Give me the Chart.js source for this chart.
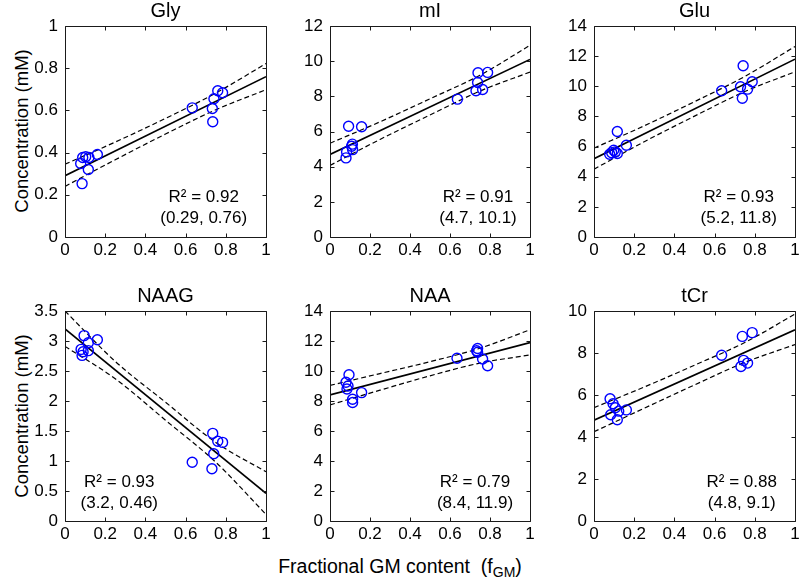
<!DOCTYPE html>
<html>
<head>
<meta charset="utf-8">
<script src="https://cdn.jsdelivr.net/npm/chart.js@4/dist/chart.umd.min.js"></script>
<style>
html,body{margin:0;padding:0;background:#fff;}
body{width:800px;height:583px;overflow:hidden;position:relative;font-family:"Liberation Sans",Arial,sans-serif;color:#000;}
canvas{position:absolute;}
.ylab{position:absolute;transform:translate(-50%,-50%) rotate(-90deg);white-space:nowrap;font-size:18.5px;}
.xlab{position:absolute;transform:translate(-50%,-50%);white-space:nowrap;font-size:19.5px;}
.xlab sub{font-size:14px;vertical-align:-4px;}
</style>
</head>
<body>
<div class="ylab" style="left:22px;top:131px;">Concentration (mM)</div>
<div class="ylab" style="left:22px;top:416px;">Concentration (mM)</div>
<div class="xlab" style="left:400px;top:567px;">Fractional GM content&nbsp;&nbsp;(f<sub>GM</sub>)</div>
<script>
// ---------------- DATA ----------------
const metabolites = ['Gly', 'mI', 'Glu', 'NAAG', 'NAA', 'tCr'];
const xTicks = [0, 0.2, 0.4, 0.6, 0.8, 1];
const bandX = [0, 0.25, 0.5, 0.75, 1];
const fitX = [0, 1];

// Gly
const glyGM    = [0.078, 0.088, 0.103, 0.119, 0.116, 0.085, 0.161, 0.633, 0.733, 0.735, 0.741, 0.760, 0.784];
const glyConc  = [0.348, 0.377, 0.380, 0.377, 0.320, 0.253, 0.391, 0.612, 0.609, 0.546, 0.655, 0.693, 0.684];
const glyFit   = [0.29, 0.76];
const glyUpper = [0.345, 0.450, 0.562, 0.682, 0.822];
const glyLower = [0.240, 0.366, 0.488, 0.603, 0.698];
const glyR2 = 0.92;
const glyTicks = [0, 0.2, 0.4, 0.6, 0.8, 1];

// mI
const miGM    = [0.080, 0.083, 0.093, 0.108, 0.112, 0.113, 0.158, 0.637, 0.730, 0.738, 0.740, 0.763, 0.788];
const miConc  = [4.50, 4.84, 6.30, 5.16, 5.28, 4.97, 6.27, 7.84, 8.32, 8.79, 9.34, 8.39, 9.36];
const miFit   = [4.7, 10.1];
const miUpper = [5.33, 6.55, 7.86, 9.20, 10.90];
const miLower = [4.07, 5.55, 6.94, 8.30, 9.38];
const miR2 = 0.91;
const miTicks = [0, 2, 4, 6, 8, 10, 12];

// Glu
const gluGM    = [0.078, 0.088, 0.098, 0.106, 0.116, 0.116, 0.161, 0.635, 0.729, 0.742, 0.738, 0.764, 0.787];
const gluConc  = [5.49, 5.60, 5.76, 5.65, 7.00, 5.54, 6.09, 9.70, 9.97, 11.36, 9.21, 9.81, 10.30];
const gluFit   = [5.2, 11.8];
const gluUpper = [5.90, 7.38, 8.98, 10.65, 12.64];
const gluLower = [4.50, 6.32, 8.02, 9.65, 10.96];
const gluR2 = 0.93;
const gluTicks = [0, 2, 4, 6, 8, 10, 12, 14];

// NAAG
const naagGM    = [0.095, 0.116, 0.161, 0.080, 0.085, 0.116, 0.090, 0.633, 0.735, 0.760, 0.784, 0.740, 0.731];
const naagConc  = [3.09, 2.97, 3.02, 2.86, 2.76, 2.84, 2.82, 0.98, 1.46, 1.33, 1.31, 1.12, 0.87];
const naagFit   = [3.2, 0.46];
const naagUpper = [3.50, 2.66, 1.98, 1.31, 0.82];
const naagLower = [2.91, 2.37, 1.68, 0.98, 0.11];
const naagR2 = 0.93;
const naagTicks = [0, 0.5, 1, 1.5, 2, 2.5, 3, 3.5];

// NAA
const naaGM    = [0.095, 0.080, 0.085, 0.090, 0.113, 0.113, 0.158, 0.635, 0.738, 0.738, 0.733, 0.763, 0.788];
const naaConc  = [9.75, 9.25, 8.80, 9.00, 8.12, 7.90, 8.56, 10.85, 11.50, 11.25, 11.35, 10.80, 10.35];
const naaFit   = [8.4, 11.9];
const naaUpper = [9.04, 9.83, 10.62, 11.52, 12.75];
const naaLower = [7.74, 8.72, 9.68, 10.53, 11.07];
const naaR2 = 0.79;
const naaTicks = [0, 2, 4, 6, 8, 10, 12, 14];

// tCr
const tcrGM    = [0.080, 0.095, 0.106, 0.161, 0.083, 0.116, 0.123, 0.635, 0.738, 0.787, 0.744, 0.731, 0.764];
const tcrConc  = [5.82, 5.58, 5.39, 5.29, 5.06, 4.82, 5.23, 7.89, 8.79, 8.97, 7.65, 7.36, 7.52];
const tcrFit   = [4.8, 9.1];
const tcrUpper = [5.40, 6.38, 7.42, 8.50, 9.85];
const tcrLower = [4.25, 5.37, 6.48, 7.55, 8.40];
const tcrR2 = 0.88;
const tcrTicks = [0, 2, 4, 6, 8, 10];

// ---------------- LAYOUT (positions/styles only) ----------------
const FONT = '"Liberation Sans", Arial, sans-serif';
const cols = [{L: 65, R: 266}, {L: 330, R: 530}, {L: 594, R: 795}];
const rows = [{T: 26, B: 237}, {T: 311, B: 521}];
const annotPos = [
  {ax: 0.69, ay1: 0.81, ay2: 0.91},
  {ax: 0.74, ay1: 0.81, ay2: 0.91},
  {ax: 0.72, ay1: 0.81, ay2: 0.91},
  {ax: 0.27, ay1: 0.815, ay2: 0.915},
  {ax: 0.725, ay1: 0.815, ay2: 0.915},
  {ax: 0.735, ay1: 0.815, ay2: 0.915}
];

const panels = [
  {gm: glyGM, conc: glyConc, fit: glyFit, upper: glyUpper, lower: glyLower, r2: glyR2, yTicks: glyTicks},
  {gm: miGM, conc: miConc, fit: miFit, upper: miUpper, lower: miLower, r2: miR2, yTicks: miTicks},
  {gm: gluGM, conc: gluConc, fit: gluFit, upper: gluUpper, lower: gluLower, r2: gluR2, yTicks: gluTicks},
  {gm: naagGM, conc: naagConc, fit: naagFit, upper: naagUpper, lower: naagLower, r2: naagR2, yTicks: naagTicks},
  {gm: naaGM, conc: naaConc, fit: naaFit, upper: naaUpper, lower: naaLower, r2: naaR2, yTicks: naaTicks},
  {gm: tcrGM, conc: tcrConc, fit: tcrFit, upper: tcrUpper, lower: tcrLower, r2: tcrR2, yTicks: tcrTicks}
];

const framePlugin = {
  id: 'frame',
  afterDraw(chart, args, opts) {
    const ctx = chart.ctx, a = chart.chartArea;
    const xs = chart.scales.x, ys = chart.scales.y;
    ctx.save();
    ctx.strokeStyle = '#1a1a1a';
    ctx.lineWidth = 1;
    const l = Math.round(a.left) + 0.5, r = Math.round(a.right) + 0.5;
    const t = Math.round(a.top) + 0.5, b = Math.round(a.bottom) + 0.5;
    ctx.beginPath();
    ctx.rect(l, t, r - l, b - t);
    const tl = 4;
    xs.ticks.forEach(tk => {
      const p = Math.round(xs.getPixelForValue(tk.value)) + 0.5;
      ctx.moveTo(p, b); ctx.lineTo(p, b - tl);
      ctx.moveTo(p, t); ctx.lineTo(p, t + tl);
    });
    ys.ticks.forEach(tk => {
      const p = Math.round(ys.getPixelForValue(tk.value)) + 0.5;
      ctx.moveTo(l, p); ctx.lineTo(l + tl, p);
      ctx.moveTo(r, p); ctx.lineTo(r - tl, p);
    });
    ctx.stroke();
    ctx.fillStyle = '#000';
    ctx.textAlign = 'center';
    ctx.textBaseline = 'alphabetic';
    ctx.font = '20px ' + FONT;
    ctx.fillText(opts.title, (a.left + a.right) / 2, a.top - 9);
    ctx.font = '17px ' + FONT;
    ctx.textBaseline = 'middle';
    const cx = a.left + opts.ax * (a.right - a.left);
    ctx.fillText(opts.line1, cx, a.top + opts.ay1 * (a.bottom - a.top));
    ctx.fillText(opts.line2, cx, a.top + opts.ay2 * (a.bottom - a.top));
    ctx.restore();
  }
};

Chart.defaults.font.family = FONT;
Chart.defaults.color = '#000';

panels.forEach((p, i) => {
  const col = cols[i % 3], row = rows[Math.floor(i / 3)];
  const padTop = 26, padRight = 10, yW = 65, xH = 30;
  const cw = yW + (col.R - col.L) + padRight;
  const ch = padTop + (row.B - row.T) + xH;
  const cv = document.createElement('canvas');
  cv.width = cw; cv.height = ch;
  cv.style.left = (col.L - yW) + 'px';
  cv.style.top = (row.T - padTop) + 'px';
  cv.style.width = cw + 'px'; cv.style.height = ch + 'px';
  document.body.appendChild(cv);

  const pts = p.gm.map((g, k) => ({x: g, y: p.conc[k]}));
  const fitPts = fitX.map((x, k) => ({x: x, y: p.fit[k]}));
  const upPts = bandX.map((x, k) => ({x: x, y: p.upper[k]}));
  const loPts = bandX.map((x, k) => ({x: x, y: p.lower[k]}));
  const yt = p.yTicks;
  const ap = annotPos[i];

  new Chart(cv, {
    type: 'scatter',
    data: {
      datasets: [
        {data: pts, pointStyle: 'circle', pointRadius: 5, pointBorderWidth: 1.4,
         pointBackgroundColor: 'rgba(0,0,0,0)', pointBorderColor: '#0000ff', showLine: false},
        {data: fitPts, showLine: true, borderColor: '#000', borderWidth: 1.7, pointRadius: 0},
        {data: upPts, showLine: true, borderColor: '#000', borderWidth: 1.2, borderDash: [5, 3],
         pointRadius: 0, cubicInterpolationMode: 'monotone'},
        {data: loPts, showLine: true, borderColor: '#000', borderWidth: 1.2, borderDash: [5, 3],
         pointRadius: 0, cubicInterpolationMode: 'monotone'}
      ]
    },
    options: {
      responsive: false,
      animation: false,
      devicePixelRatio: 1,
      layout: {padding: {top: padTop, right: padRight, left: 0, bottom: 0}},
      plugins: {
        legend: {display: false},
        tooltip: {enabled: false},
        frame: {
          title: metabolites[i],
          line1: 'R\u00B2 = ' + p.r2.toFixed(2),
          line2: '(' + p.fit[0] + ', ' + p.fit[1] + ')',
          ax: ap.ax, ay1: ap.ay1, ay2: ap.ay2
        }
      },
      scales: {
        x: {
          type: 'linear', min: 0, max: 1,
          grid: {display: false, drawTicks: false, tickLength: 0},
          border: {display: false},
          afterBuildTicks: s => { s.ticks = xTicks.map(v => ({value: v})); },
          afterFit: s => { s.height = xH; },
          ticks: {font: {size: 17}, color: '#000', padding: 3, maxRotation: 0, autoSkip: false,
                  callback: v => String(v)}
        },
        y: {
          type: 'linear', min: yt[0], max: yt[yt.length - 1],
          grid: {display: false, drawTicks: false, tickLength: 0},
          border: {display: false},
          afterBuildTicks: s => { s.ticks = yt.map(v => ({value: v})); },
          afterFit: s => { s.width = yW; },
          ticks: {font: {size: 17}, color: '#000', padding: 7, autoSkip: false,
                  callback: v => String(v)}
        }
      }
    },
    plugins: [framePlugin]
  });
});
</script>
</body>
</html>
